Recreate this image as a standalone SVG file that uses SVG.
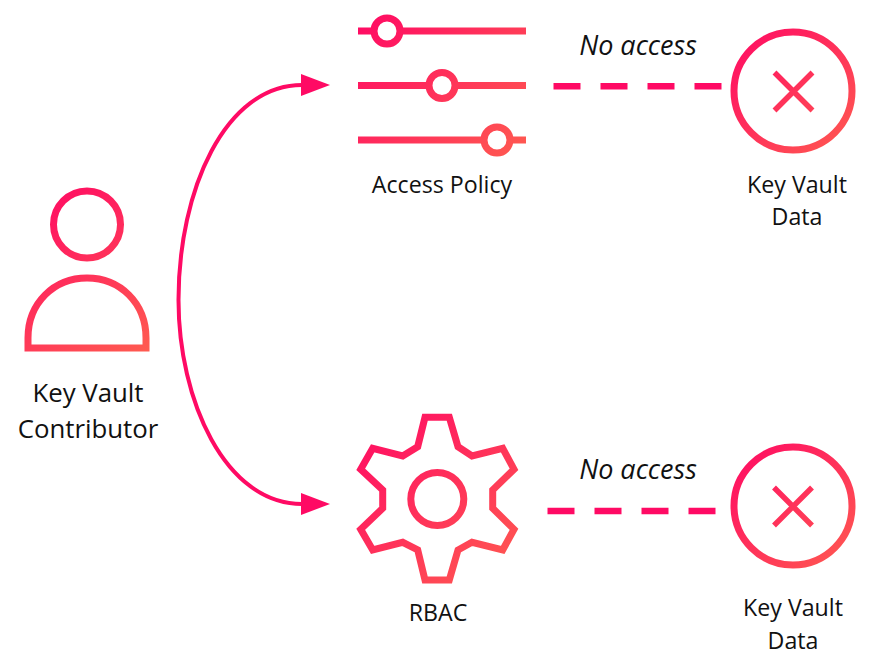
<svg xmlns="http://www.w3.org/2000/svg" width="875" height="664" viewBox="0 0 875 664">
<defs>
<linearGradient id="gUser" gradientUnits="userSpaceOnUse" x1="30" y1="195" x2="148" y2="350"><stop offset="0" stop-color="#ff0a64"/><stop offset="1" stop-color="#ff5a50"/></linearGradient>
<linearGradient id="gSlide" gradientUnits="userSpaceOnUse" x1="358" y1="20" x2="526" y2="155"><stop offset="0" stop-color="#ff0a64"/><stop offset="1" stop-color="#ff5a50"/></linearGradient>
<linearGradient id="gGear" gradientUnits="userSpaceOnUse" x1="360" y1="417" x2="514" y2="580"><stop offset="0" stop-color="#ff0a64"/><stop offset="1" stop-color="#ff5a50"/></linearGradient>
<linearGradient id="gA" gradientUnits="userSpaceOnUse" x1="733" y1="31" x2="853" y2="151"><stop offset="0" stop-color="#ff0a64"/><stop offset="1" stop-color="#ff5a50"/></linearGradient>
<linearGradient id="gB" gradientUnits="userSpaceOnUse" x1="733" y1="446" x2="853" y2="566"><stop offset="0" stop-color="#ff0a64"/><stop offset="1" stop-color="#ff5a50"/></linearGradient>
<marker id="arrow" markerUnits="userSpaceOnUse" markerWidth="30" markerHeight="24" refX="1" refY="12" orient="auto"><path d="M0,1 L29,12 L0,23 Z" fill="#ff0a64"/></marker>
</defs>
<style>
text{font-family:"Open Sans","Noto Sans","Liberation Sans",sans-serif;font-size:23.2px;fill:#111;text-anchor:middle}
.i{font-style:italic;font-size:27px}
.l{font-size:25.8px}
.c{fill:none;stroke:#ff0a64;stroke-width:4}
.d{fill:none;stroke:#ff0a64;stroke-width:6.5;stroke-dasharray:27 20}
.s{fill:none;stroke-width:7}
.x{fill:none;stroke-width:5.5}
.w{fill:#fff;stroke-width:7}
</style>
<g id="connectors">
<path class="c" d="M178.5,300 C178.5,190 225,85 302,85" marker-end="url(#arrow)"/>
<path class="c" d="M178.5,300 C178.5,400 225,504 302,504" marker-end="url(#arrow)"/>
<path class="d" d="M553.5,86.3 H722"/>
<path class="d" d="M547.5,511 H716"/>
</g>
<g id="contributor">
<circle class="s" stroke="url(#gUser)" cx="87" cy="224.5" r="33.5"/>
<path class="s" stroke="url(#gUser)" d="M28,348 H146 V338 C146,303 120,278 87,278 C54,278 28,303 28,338 Z"/>
<text class="l" x="88" y="402">Key Vault</text>
<text class="l" x="88" y="438">Contributor</text>
</g>
<g id="access-policy">
<path class="s" stroke="url(#gSlide)" d="M358,31 H526 M358,85.5 H526 M358,140 H526"/>
<circle class="w" stroke="url(#gSlide)" cx="387" cy="31" r="13"/>
<circle class="w" stroke="url(#gSlide)" cx="442" cy="85.5" r="13"/>
<circle class="w" stroke="url(#gSlide)" cx="497" cy="140" r="13"/>
<text x="442" y="193">Access Policy</text>
</g>
<g id="rbac">
<path class="s" stroke="url(#gGear)" d="M425,417.3 L449.3,417.3 L458,446.7 L472,456 L502.7,448.3 L514,469.3 L492.7,490 L492.7,508.3 L514,529.3 L502.7,550 L472,542.3 L458,550 L449.3,580 L425,580 L417.7,550 L402.7,542.3 L372.7,550 L360.7,529.3 L382.7,508.3 L382.7,490 L360.7,469.3 L372.7,448.3 L402.7,456 L417.7,446.7 Z"/>
<circle class="s" stroke="url(#gGear)" cx="437.3" cy="499" r="26.5"/>
<text x="438" y="621">RBAC</text>
</g>
<g id="data-top">
<circle class="s" stroke="url(#gA)" cx="793" cy="91" r="59"/>
<path class="x" stroke="url(#gA)" d="M774.5,72.5 L812.5,110.5 M812.5,72.5 L774.5,110.5"/>
<text x="797" y="193">Key Vault</text>
<text x="797" y="225">Data</text>
</g>
<g id="data-bottom">
<circle class="s" stroke="url(#gB)" cx="793" cy="506" r="59"/>
<path class="x" stroke="url(#gB)" d="M774,487.5 L812,525.5 M812,487.5 L774,525.5"/>
<text x="793" y="616">Key Vault</text>
<text x="793" y="649">Data</text>
</g>
<text class="i" x="638" y="55">No access</text>
<text class="i" x="638" y="479">No access</text>
</svg>
